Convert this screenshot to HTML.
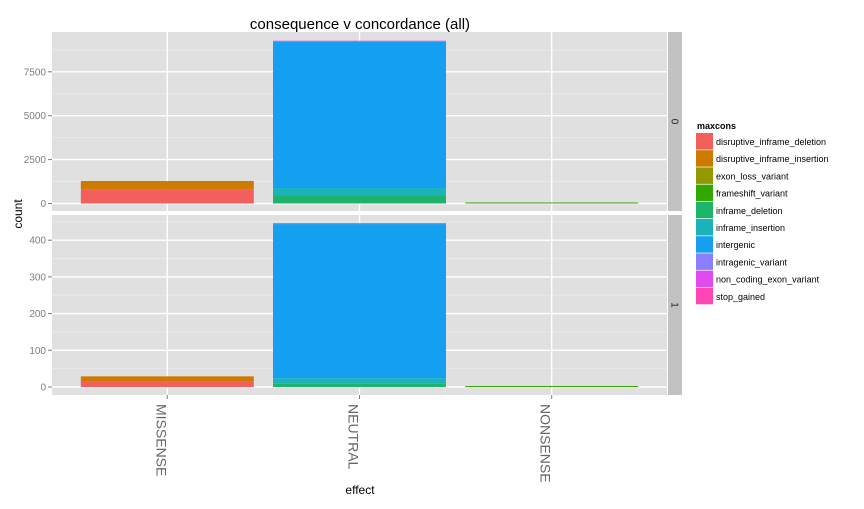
<!DOCTYPE html>
<html><head><meta charset="utf-8"><style>
body{margin:0;background:#fff;font-family:"Liberation Sans",sans-serif}
svg text{font-family:"Liberation Sans",sans-serif}
</style></head><body>
<svg id="c" width="864" height="504" xmlns="http://www.w3.org/2000/svg"></svg>
<script>
const categories = ["MISSENSE","NEUTRAL","NONSENSE"];
const consTypes = ["disruptive_inframe_deletion","disruptive_inframe_insertion","exon_loss_variant","frameshift_variant","inframe_deletion","inframe_insertion","intergenic","intragenic_variant","non_coding_exon_variant","stop_gained"];
const colors = ["#F25F5C","#CC7A00","#939A00","#33A800","#1BB46A","#1CB2BA","#159FF0","#8A7FFF","#E04AEE","#FF45B5"];
// panel 0 values per category, per consequence
const panel0Missense = [820,460,0,0,0,0,0,0,0,0];
const panel0Neutral  = [0,0,0,0,480,400,8330,0,60,0];
const panel0Nonsense = [0,0,0,20,0,0,0,0,0,0];
const panel1Missense = [14,15,0,0,0,0,0,0,0,0];
const panel1Neutral  = [0,0,0,0,9,15,420,2,0,0];
const panel1Nonsense = [0,0,0,1,0,0,0,0,0,0];
const ticks0 = [0,2500,5000,7500];
const ticks1 = [0,100,200,300,400];

const svg = document.getElementById('c');
const NS = "http://www.w3.org/2000/svg";
function el(tag, attrs, parent){const e=document.createElementNS(NS,tag);for(const k in attrs)e.setAttribute(k,attrs[k]);(parent||svg).appendChild(e);return e;}

const px0=52, px1=667;
const unit = (px1-px0)/(categories.length-1+1.2);
const xC = i => px0 + unit*(i+0.6);
const barW = unit*0.9;
const panels = [
  {top:32,bottom:211,y0:203.5,k:43.9/2500,ticks:ticks0,data:[panel0Missense,panel0Neutral,panel0Nonsense],label:"0",minor:[1250,3750,6250,8750]},
  {top:215,bottom:395,y0:387,k:36.7/100,ticks:ticks1,data:[panel1Missense,panel1Neutral,panel1Nonsense],label:"1",minor:[50,150,250,350,450]}
];
panels.forEach((p,pi)=>{
  const y = v => p.y0 - v*p.k;
  const bg = el('rect',{x:px0,y:p.top,width:px1-px0,height:p.bottom-p.top,fill:'#E0E0E0'});
  
  
  p.minor.forEach(v=>{ if(y(v)>p.top) el('line',{x1:px0,x2:px1,y1:y(v),y2:y(v),stroke:'#EBEBEB','stroke-width':0.8}); });
  p.ticks.forEach(v=>{
    el('line',{x1:px0,x2:px1,y1:y(v),y2:y(v),stroke:'#fff','stroke-width':1.4});
    el('line',{x1:px0-4,x2:px0,y1:y(v),y2:y(v),stroke:'#7f7f7f','stroke-width':1});
    const t=el('text',{x:px0-6,y:y(v)+3.5,'text-anchor':'end','font-size':10,fill:'#7f7f7f'});t.textContent=v;
    
    
  });
  categories.forEach((c,i)=>el('line',{x1:xC(i),x2:xC(i),y1:p.top,y2:p.bottom,stroke:'#fff','stroke-width':1.4}));
  p.data.forEach((vals,i)=>{
    let cum=0;
    vals.forEach((v,j)=>{
      if(v<=0) return;
      const h=Math.max(v*p.k,1);
      const r=el('rect',{x:xC(i)-barW/2,y:y(cum)-h,width:barW,height:h,fill:colors[j]});
      
      
      cum+=v;
    });
  });
  const st=el('rect',{x:668,y:p.top,width:14,height:p.bottom-p.top,fill:'#C2C2C2'});
  
  
  const cy=(p.top+p.bottom)/2;
  const stt=el('text',{x:675,y:cy,'text-anchor':'middle','font-size':10,fill:'#222',transform:`rotate(90 675 ${cy}) translate(0 3.5)`});stt.textContent=p.label;
  
  
});
categories.forEach((c,i)=>{
  el('line',{x1:xC(i),x2:xC(i),y1:395,y2:399,stroke:'#7f7f7f'});
  const t=el('text',{x:0,y:0,'font-size':14,fill:'#666',transform:`translate(${xC(i)-11},404) rotate(90)`});t.textContent=c;
  
  
});
const title=el('text',{x:360,y:29,'text-anchor':'middle','font-size':15,fill:'#000'});title.textContent='consequence v concordance (all)';


const xt=el('text',{x:360,y:494,'text-anchor':'middle','font-size':12,fill:'#000'});xt.textContent='effect';


const yt=el('text',{x:0,y:0,'text-anchor':'middle','font-size':12,fill:'#000',transform:'translate(22,214) rotate(-90)'});yt.textContent='count';


const lt=el('text',{x:697,y:129,'font-size':9,'font-weight':'bold',fill:'#000'});lt.textContent='maxcons';


consTypes.forEach((n,j)=>{
  const ky=133+j*17.2;
  const k=el('rect',{x:696,y:ky,width:17,height:16.5,fill:colors[j]});
  
  
  const t=el('text',{x:716,y:ky+12,'font-size':9,fill:'#000'});t.textContent=n;
  
  
});
</script>
</body></html>
